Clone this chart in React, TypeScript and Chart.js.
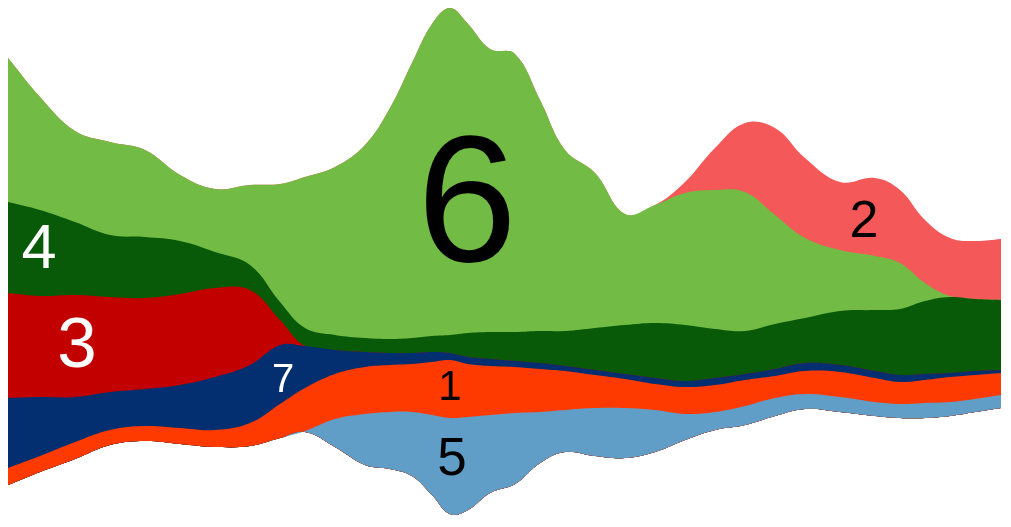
import React, { useEffect, useRef } from "react";
import { Chart, registerables } from "chart.js";

Chart.register(...registerables);

// horizontal positions of the samples (linear "time" axis, 0..993)
const xs = [0, 32, 67, 102, 137, 172, 207, 242, 272, 297, 327, 357, 382, 404, 424, 442, 460, 482, 507, 532, 557, 587, 617, 647, 677, 707, 737, 767, 797, 832, 867, 892, 917, 942, 967, 993];

// stream baseline (offset of the lowest layer)
const baseline = [34, 47, 60, 74, 78, 75, 72, 73, 81, 87, 72, 54, 50, 43, 24, 5, 9, 26, 35, 56, 67, 63, 61, 67, 79, 89, 94, 103, 110, 107, 103, 101, 101, 103, 107, 111];

// layer thicknesses, bottom to top
const series5 = [0, 0, 0, 0, 0, 0, 0, 0, 0, 1, 28, 51, 57, 64, 80, 96, 93, 78, 71, 51, 42, 48, 50, 42, 26, 18, 19, 18, 15, 15, 14, 14, 15, 14, 13, 13];
const series1 = [17, 16, 17, 15, 15, 16, 17, 23, 34, 43, 45, 47, 47, 48, 53, 58, 53, 49, 46, 43, 39, 33, 29, 26, 27, 27, 26, 22, 23, 25, 24, 22, 23, 25, 24, 22];
const series7 = [70, 59, 45, 38, 37, 43, 53, 58, 59, 42, 24, 15, 12, 11, 10, 7, 7, 7, 6, 6, 5, 5, 5, 6, 6, 7, 6, 7, 8, 7, 7, 7, 6, 4, 4, 3];
const series3 = [105, 101, 102, 95, 91, 91, 89, 75, 25, 0, 0, 0, 0, 0, 0, 0, 0, 0, 0, 0, 0, 0, 0, 0, 0, 0, 0, 0, 0, 0, 0, 0, 0, 0, 0, 0];
const series4 = [91, 86, 73, 62, 61, 53, 36, 25, 18, 18, 15, 14, 14, 15, 16, 18, 24, 27, 29, 32, 35, 42, 49, 55, 56, 49, 43, 45, 45, 54, 61, 66, 73, 76, 72, 70];
const series6 = [144, 113, 91, 93, 87, 66, 63, 80, 118, 151, 168, 193, 231, 275, 312, 327, 309, 283, 278, 231, 181, 155, 111, 118, 132, 139, 139, 109, 80, 61, 54, 46, 18, 1, 0, 0];
const series2 = [0, 0, 0, 0, 0, 0, 0, 0, 0, 0, 0, 0, 0, 0, 0, 0, 0, 0, 0, 0, 0, 0, 0, 0, 11, 42, 69, 87, 80, 68, 78, 73, 63, 58, 58, 61];

const layerNames = ["5", "1", "7", "3", "4", "6", "2"];
const layerColors = ["#619EC7", "#FF3A00", "#032F70", "#C30000", "#085A08", "#72BB44", "#F55858"];

// in-stream labels (anchor in data units)
const labelText = ["6", "4", "3", "7", "1", "5", "2"];
const labelX = [459, 31, 69, 275, 442, 444, 856];
const labelY = [322, 274, 177, 141, 134, 63, 301];
const labelSize = [180, 63, 71, 40, 42, 53, 52];
const labelColor = ["#000000", "#FFFFFF", "#FFFFFF", "#FFFFFF", "#000000", "#000000", "#000000"];

const labelPlugin = {
  id: "streamLabels",
  afterDatasetsDraw(chart: any) {
    const ctx = chart.ctx;
    const sx = chart.scales.x;
    const sy = chart.scales.y;
    ctx.save();
    ctx.textAlign = "center";
    ctx.textBaseline = "alphabetic";
    for (let i = 0; i < labelText.length; i++) {
      const px = sx.getPixelForValue(labelX[i]);
      const py = sy.getPixelForValue(labelY[i]) + 0.358 * labelSize[i];
      ctx.font = `${labelSize[i]}px "Liberation Sans", Arial, sans-serif`;
      ctx.fillStyle = labelColor[i];
      ctx.fillText(labelText[i], px, py);
    }
    ctx.restore();
  },
};

export default function App() {
  const ref = useRef<HTMLCanvasElement | null>(null);
  useEffect(() => {
    if (!ref.current) return;
    const layers = [series5, series1, series7, series3, series4, series6, series2];
    const toPts = (arr: number[]) => arr.map((v, i) => ({ x: xs[i], y: v }));
    const datasets: any[] = [
      {
        label: "base",
        data: toPts(baseline),
        fill: false,
        borderWidth: 0,
        borderColor: "rgba(0,0,0,0)",
        pointRadius: 0,
        tension: 0.4,
      },
    ];
    layers.forEach((arr, k) => {
      datasets.push({
        label: layerNames[k],
        data: toPts(arr),
        fill: 0,
        backgroundColor: layerColors[k],
        borderColor: "rgba(0,0,0,0)",
        borderWidth: 0,
        pointRadius: 0,
        tension: 0.4,
      });
    });
    const chart = new Chart(ref.current, {
      type: "line",
      data: { datasets },
      options: {
        animation: false,
        responsive: false,
        devicePixelRatio: 1,
        events: [],
        layout: { padding: 0 },
        plugins: { legend: { display: false }, tooltip: { enabled: false } },
        scales: {
          x: { type: "linear", min: 0, max: 993, display: false },
          y: { stacked: true, min: 0, max: 511, display: false },
        },
      },
      plugins: [labelPlugin],
    });
    return () => chart.destroy();
  }, []);
  return (
    <div style={{ width: 993, height: 511 }}>
      <canvas ref={ref} width={993} height={511} style={{ display: "block" }} />
    </div>
  );
}
